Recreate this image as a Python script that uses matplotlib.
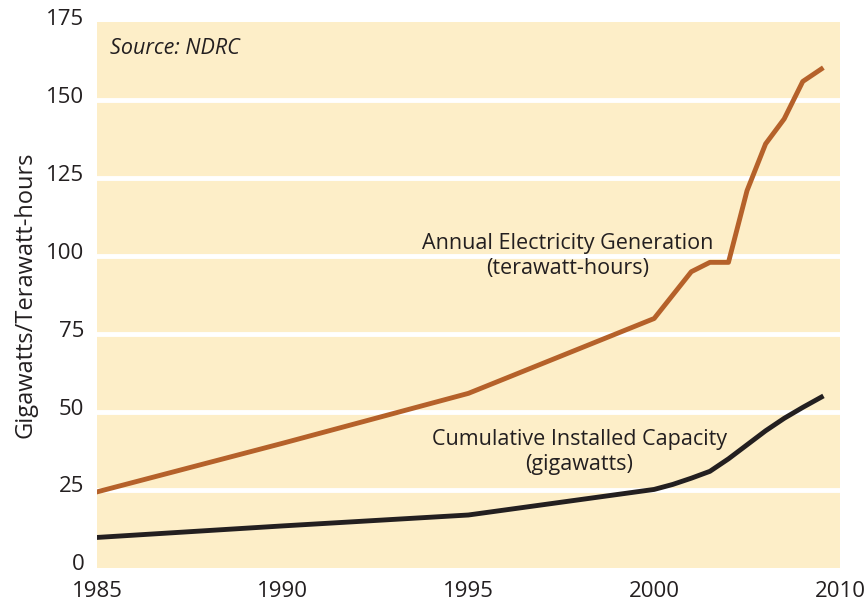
import matplotlib
matplotlib.use("Agg")
import matplotlib.pyplot as plt
import matplotlib.transforms as mtransforms
import numpy as np

gen_years = [1985, 1990, 1995, 2000, 2002, 2003, 2004, 2005, 2006, 2007, 2008, 2009]
gen_vals = [24.4, 40, 56, 80, 95, 98, 98, 121, 136, 144, 156, 160]
cap_years = [1985, 1990, 1995, 2000, 2001, 2002, 2003, 2004, 2005, 2006, 2007, 2008, 2009]
cap_vals = [9.8, 13.5, 17, 25.2, 26.8, 28.8, 31, 35, 39.5, 44, 48, 51.5, 54.8]
x_ticks = [1985, 1990, 1995, 2000, 2010]
y_ticks = [0, 25, 50, 75, 100, 125, 150, 175]

plt.rcParams['font.family'] = ['Open Sans', 'DejaVu Sans']
txt = '#231F20'

def fwd(x):
    x = np.asarray(x, dtype=float)
    return np.where(x <= 2000, (x - 1985) / 5.0, 3 + (x - 2000) / 10.0)

def inv(u):
    u = np.asarray(u, dtype=float)
    return np.where(u <= 3, 1985 + u * 5.0, 2000 + (u - 3) * 10.0)

fig = plt.figure(figsize=(8.65, 6), dpi=100)
ax = fig.add_axes([0.112, 0.0533, 0.859, 0.9097])
ax.set_xscale('function', functions=(fwd, inv))
ax.set_facecolor('#FDEEC8')
ax.set_xlim(1985, 2010)
ax.set_ylim(0, 175)
ax.set_xticks(x_ticks)
ax.set_xticklabels([str(t) for t in x_ticks])
ax.set_yticks(y_ticks)
ax.set_yticklabels([str(t) for t in y_ticks])
ax.xaxis.set_minor_locator(matplotlib.ticker.NullLocator())
for s in ax.spines.values():
    s.set_visible(False)
ax.tick_params(length=0, labelsize=16, colors=txt)
ax.tick_params(axis='y', pad=9)
ax.tick_params(axis='x', pad=9)
off = mtransforms.ScaledTranslation(0, 4 / 72, fig.dpi_scale_trans)
for lab in ax.get_yticklabels():
    lab.set_transform(lab.get_transform() + off)
for y in y_ticks[1:-1]:
    ax.axhline(y, color='white', lw=3.5, zorder=1)

ax.plot(gen_years, gen_vals, color='#B5612A', lw=3.5, zorder=3)
ax.plot(cap_years, cap_vals, color='#231F20', lw=3.5, zorder=3)

ax.text(0.634, 0.572, 'Annual Electricity Generation\n(terawatt-hours)', transform=ax.transAxes,
        ha='center', va='center', fontsize=15.5, color=txt, linespacing=1.25)
ax.text(0.649, 0.2125, 'Cumulative Installed Capacity\n(gigawatts)', transform=ax.transAxes,
        ha='center', va='center', fontsize=15.5, color=txt, linespacing=1.25)
ax.text(0.0175, 0.952, 'Source: NDRC', transform=ax.transAxes, ha='left', va='center',
        fontsize=15.5, style='italic', color=txt)
ax.set_ylabel('Gigawatts/Terawatt-hours', fontsize=17, color=txt, labelpad=6)

fig.savefig('out.png', dpi=100)
